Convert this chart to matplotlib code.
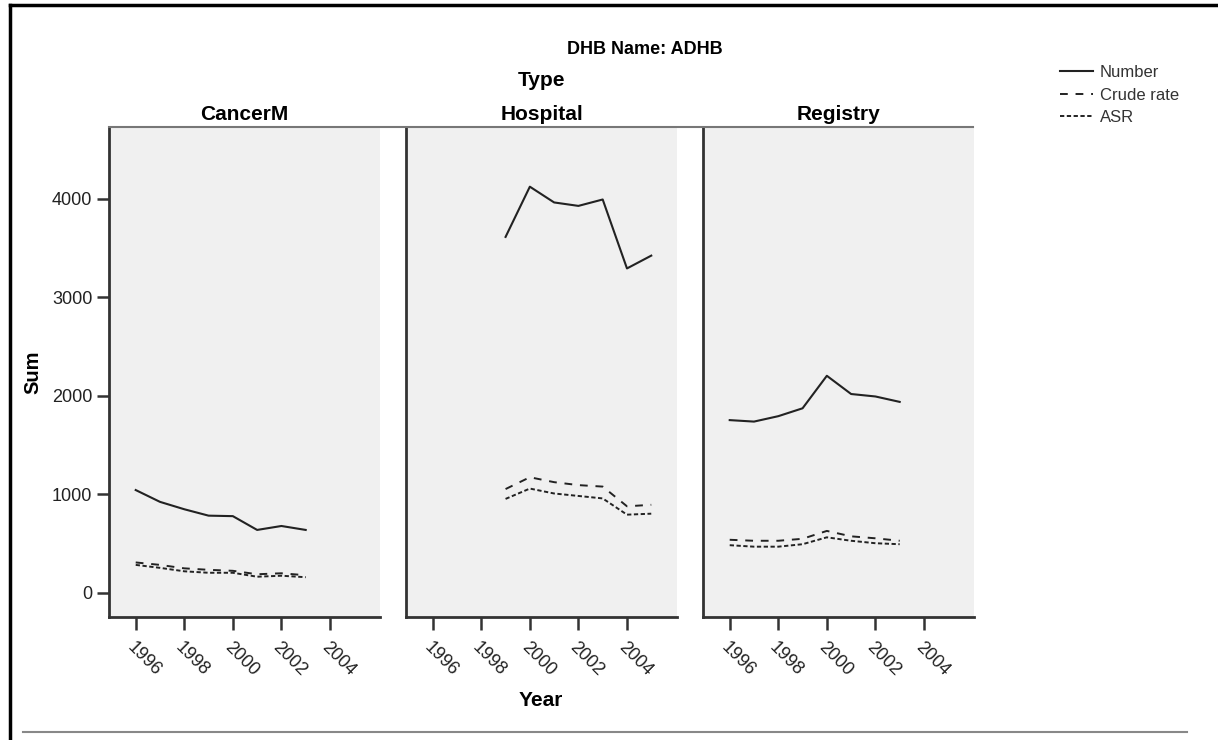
import matplotlib
matplotlib.use("Agg")
import matplotlib.pyplot as plt
from matplotlib.lines import Line2D

plt.rcParams['font.family'] = ['Liberation Sans', 'DejaVu Sans']

# data
panels = ['CancerM', 'Hospital', 'Registry']

cancer_years = [1996, 1997, 1998, 1999, 2000, 2001, 2002, 2003]
cancer_number = [1045, 925, 850, 785, 780, 640, 680, 640]
cancer_crude = [310, 285, 250, 235, 225, 190, 200, 180]
cancer_asr = [285, 255, 220, 205, 205, 165, 175, 160]

hosp_years = [1999, 2000, 2001, 2002, 2003, 2004, 2005]
hosp_number = [3615, 4125, 3965, 3930, 3995, 3295, 3425]
hosp_crude = [1055, 1175, 1125, 1095, 1080, 880, 895]
hosp_asr = [955, 1060, 1010, 985, 960, 795, 805]

reg_years = [1996, 1997, 1998, 1999, 2000, 2001, 2002, 2003]
reg_number = [1755, 1740, 1795, 1875, 2205, 2020, 1995, 1940]
reg_crude = [540, 530, 530, 550, 630, 575, 555, 530]
reg_asr = [485, 470, 470, 495, 565, 530, 505, 495]

series_names = ['Number', 'Crude rate', 'ASR']
years = [cancer_years, hosp_years, reg_years]
values = [
    [cancer_number, cancer_crude, cancer_asr],
    [hosp_number, hosp_crude, hosp_asr],
    [reg_number, reg_crude, reg_asr],
]
xticks = [1996, 1998, 2000, 2002, 2004]
yticks = [0, 1000, 2000, 3000, 4000]

W, H = 1218, 740
fig = plt.figure(figsize=(W / 100, H / 100), dpi=100)

lc = '#222222'
styles = [dict(linestyle='-', linewidth=1.5),
          dict(linestyle=(0, (4, 4)), linewidth=1.4),
          dict(linestyle=(0, (2.2, 1.3)), linewidth=1.4)]

lefts = [109, 406, 703]
pw = 271
top, bottom = 127, 617

axes = []
for i, name in enumerate(panels):
    ax = fig.add_axes([lefts[i] / W, 1 - bottom / H, pw / W, (bottom - top) / H])
    ax.set_facecolor('#f0f0f0')
    for k in range(3):
        ax.plot(years[i], values[i][k], color=lc, **styles[k])
    ax.set_xlim(1994.9, 2006.06)
    ax.set_ylim(-244, 4731)
    ax.set_xticks(xticks)
    ax.set_xticklabels([str(t) for t in xticks])
    ax.set_yticks(yticks)
    for s in ['top', 'right']:
        ax.spines[s].set_visible(False)
    ax.spines['left'].set_color('#333333')
    ax.spines['left'].set_linewidth(2)
    ax.spines['bottom'].set_color('#333333')
    ax.spines['bottom'].set_linewidth(2)
    ax.tick_params(axis='x', length=9, width=1.8, color='#333333', pad=7,
                   labelsize=13, labelcolor='#222222')
    ax.tick_params(axis='y', length=9, width=1.8, color='#333333', pad=3,
                   labelsize=13, labelcolor='#222222')
    plt.setp(ax.get_xticklabels(), rotation=-45, ha='left', va='top',
             rotation_mode='anchor')
    if i > 0:
        ax.tick_params(axis='y', left=False, labelleft=False)
    ax.set_title(name, fontsize=15, fontweight='bold', pad=5)
    axes.append(ax)

axes[0].set_ylabel('Sum', fontsize=14.5, fontweight='bold')
axes[0].yaxis.set_label_coords((42 - 109) / pw, 0.5)

# headers
fig.text(645 / W, 1 - 50 / H, 'DHB Name: ADHB', ha='center', va='center',
         fontsize=13, fontweight='bold')
fig.text(541 / W, 1 - 81 / H, 'Type', ha='center', va='center',
         fontsize=15, fontweight='bold')
fig.text(541 / W, 1 - 700 / H, 'Year', ha='center', va='center',
         fontsize=15, fontweight='bold')

# top rule across panels and frame lines
fig.add_artist(Line2D([109 / W, 973 / W], [1 - 127 / H, 1 - 127 / H],
                      color='#777777', linewidth=1.5))
fig.add_artist(Line2D([10 / W, 1], [1 - 5 / H, 1 - 5 / H], color='black', linewidth=2.5))
fig.add_artist(Line2D([10 / W, 10 / W], [0, 1 - 5 / H], color='black', linewidth=2.5))
fig.add_artist(Line2D([23 / W, 1187 / W], [1 - 732 / H, 1 - 732 / H],
                      color='#888888', linewidth=1.5))

handles = [Line2D([], [], color=lc, **st) for st in styles]
fig.legend(handles, series_names, loc='upper left', bbox_to_anchor=(1060 / W, 1 - 65 / H),
           frameon=False, fontsize=12, handlelength=2.0, handletextpad=0.4,
           labelspacing=0.45, borderpad=0, borderaxespad=0, labelcolor='#333333')

fig.savefig('out.png', dpi=100)
